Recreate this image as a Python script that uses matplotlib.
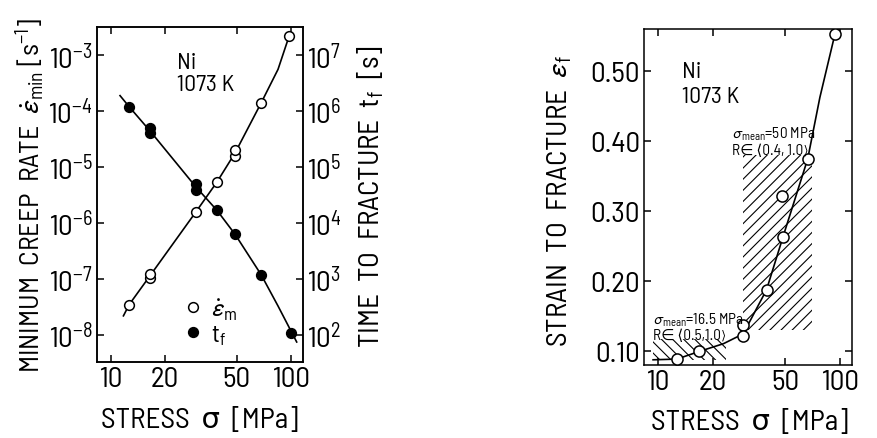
import matplotlib
matplotlib.use("Agg")
import matplotlib.pyplot as plt
from matplotlib.patches import Rectangle
from matplotlib.ticker import FixedLocator, NullLocator, LogFormatterSciNotation
from matplotlib.lines import Line2D

# --- Ni, 1073 K: minimum creep rate and time to fracture vs stress ---
stress_rate = [12.6, 16.4, 16.4, 29.7, 38.8, 49.0, 49.0, 68.4, 98.0]
creep_rate = [3.5e-8, 1.04e-7, 1.23e-7, 1.6e-6, 5.4e-6, 1.6e-5, 2.0e-5, 1.4e-4, 2.2e-3]

stress_tf = [12.6, 16.4, 16.4, 29.7, 29.7, 38.8, 49.0, 68.4, 100.0]
time_fracture = [1.2e6, 5.1e5, 4.1e5, 5.0e4, 3.9e4, 1.7e4, 6.3e3, 1.2e3, 1.1e2]

# hand-drawn fit curves
rate_curve_x = [11.7, 12.6, 16.4, 29.7, 38.8, 49.0, 68.4, 85.0, 98.0]
rate_curve_y = [2.2e-8, 3.5e-8, 1.13e-7, 1.6e-6, 5.4e-6, 1.8e-5, 1.4e-4, 5.6e-4, 2.2e-3]
tf_curve_x = [11.2, 12.6, 16.4, 29.7, 38.8, 49.0, 68.4, 85.0, 108.0]
tf_curve_y = [1.9e6, 1.2e6, 4.5e5, 4.4e4, 1.7e4, 6.3e3, 1.2e3, 3.3e2, 75.0]

# --- strain to fracture vs stress ---
stress_ef = [12.7, 16.9, 29.4, 29.4, 39.5, 47.8, 48.7, 66.5, 94.0]
strain_fracture = [0.088, 0.100, 0.136, 0.121, 0.187, 0.321, 0.263, 0.374, 0.553]
ef_curve_x = [9.4, 12.7, 16.9, 22.9, 29.4, 39.5, 48.7, 66.5, 77.6, 94.0]
ef_curve_y = [0.087, 0.088, 0.099, 0.110, 0.124, 0.187, 0.263, 0.374, 0.462, 0.553]

# cyclic loading regions (stress range, strain range)
region_high_x = (29.2, 70.0)
region_high_y = (0.130, 0.380)
region_low_x = (9.35, 23.6)
region_low_y = (0.086, 0.116)

stress_ticks = [10, 20, 50, 100]
stress_tick_labels = ["10", "20", "50", "100"]
strain_ticks = [0.10, 0.20, 0.30, 0.40, 0.50]
strain_tick_labels = ["0.10", "0.20", "0.30", "0.40", "0.50"]

FONT = ["Barlow Semi Condensed", "DejaVu Sans"]
plt.rcParams["font.family"] = FONT
plt.rcParams["mathtext.fontset"] = "custom"
plt.rcParams["mathtext.rm"] = "Barlow Semi Condensed"
plt.rcParams["mathtext.it"] = "Barlow Semi Condensed:italic"
plt.rcParams["mathtext.bf"] = "Barlow Semi Condensed:bold"
plt.rcParams["mathtext.fallback"] = "stixsans"
plt.rcParams["hatch.linewidth"] = 0.8
plt.rcParams["axes.linewidth"] = 1.1

TICK_FS = 21
LABEL_FS = 21


def style_axis(ax, left=True, right=True):
    ax.tick_params(which="major", direction="in", length=5, width=1.1,
                   labelsize=TICK_FS, top=True, bottom=True, left=left, right=right)
    ax.tick_params(which="minor", length=0)


fig = plt.figure(figsize=(8.78, 4.39), dpi=100)

# ---------------- left panel ----------------
ax = fig.add_axes([0.1101, 0.1724, 0.2353, 0.7631])
ax.set_xscale("log")
ax.set_yscale("log")
ax.set_xlim(8.3, 117.5)
ax.set_ylim(3.25e-9, 3.16e-3)

ax.plot(rate_curve_x, rate_curve_y, color="black", lw=1.2, zorder=2)
ax.plot(stress_rate, creep_rate, "o", ms=7, mfc="white", mec="black", mew=1.1, zorder=3)

ax.xaxis.set_major_locator(FixedLocator(stress_ticks))
ax.set_xticklabels(stress_tick_labels)
ax.xaxis.set_minor_locator(NullLocator())
ax.yaxis.set_major_locator(FixedLocator([1e-8, 1e-7, 1e-6, 1e-5, 1e-4, 1e-3]))
ax.yaxis.set_major_formatter(LogFormatterSciNotation())
ax.yaxis.set_minor_locator(NullLocator())
style_axis(ax, left=True, right=False)
ax.tick_params(axis="x", pad=3)
ax.tick_params(axis="y", pad=3)

ax2 = ax.twinx()
ax2.set_yscale("log")
ax2.set_ylim(3.25e1, 3.16e7)
ax2.plot(tf_curve_x, tf_curve_y, color="black", lw=1.2, zorder=2)
ax2.plot(stress_tf, time_fracture, "o", ms=7, mfc="black", mec="black", mew=1.1, zorder=3)
ax2.yaxis.set_major_locator(FixedLocator([1e2, 1e3, 1e4, 1e5, 1e6, 1e7]))
ax2.yaxis.set_major_formatter(LogFormatterSciNotation())
ax2.yaxis.set_minor_locator(NullLocator())
ax2.tick_params(which="major", direction="in", length=5, width=1.1,
                labelsize=TICK_FS, pad=3)
ax2.tick_params(which="minor", length=0)

ax.text(0.39, 0.895, "Ni", transform=ax.transAxes, fontsize=17, va="center")
ax.text(0.39, 0.830, "1073 K", transform=ax.transAxes, fontsize=17, va="center")

handles = [
    Line2D([], [], ls="none", marker="o", ms=7, mfc="white", mec="black", mew=1.1),
    Line2D([], [], ls="none", marker="o", ms=7, mfc="black", mec="black", mew=1.1),
]
ax.legend(handles, [r"$\dot{\varepsilon}_{\rm m}$", r"$\rm t_f$"], loc="upper left",
          bbox_to_anchor=(0.37, 0.235), frameon=False, fontsize=18,
          handlelength=0.6, handletextpad=0.4, labelspacing=0.05, borderpad=0)

fig.text(200 / 878, 1 - 421 / 439, "STRESS  σ  [MPa]", fontsize=LABEL_FS,
         ha="center", va="center")
fig.text(31 / 878, 1 - 195 / 439,
         r"MINIMUM  CREEP  RATE  $\dot{\varepsilon}_{\rm min}$ [s$^{-1}$]",
         fontsize=20, rotation=90, ha="center", va="center")
fig.text(371 / 878, 1 - 197 / 439, r"TIME  TO  FRACTURE  $\rm t_f$  [s]",
         fontsize=LABEL_FS, rotation=90, ha="center", va="center")

# ---------------- right panel ----------------
bx = fig.add_axes([0.7338, 0.1670, 0.2362, 0.7636])
bx.set_xscale("log")
bx.set_xlim(8.41, 116.0)
bx.set_ylim(0.080, 0.559)

bx.add_patch(Rectangle((region_high_x[0], region_high_y[0]),
                       region_high_x[1] - region_high_x[0],
                       region_high_y[1] - region_high_y[0],
                       fill=False, hatch="///", lw=0, zorder=1))
bx.add_patch(Rectangle((region_low_x[0], region_low_y[0]),
                       region_low_x[1] - region_low_x[0],
                       region_low_y[1] - region_low_y[0],
                       fill=False, hatch="\\\\\\", lw=0, zorder=1))

bx.plot(ef_curve_x, ef_curve_y, color="black", lw=1.2, zorder=2)
bx.plot(stress_ef, strain_fracture, "o", ms=8, mfc="white", mec="black", mew=1.1, zorder=3)

bx.xaxis.set_major_locator(FixedLocator(stress_ticks))
bx.set_xticklabels(stress_tick_labels)
bx.xaxis.set_minor_locator(NullLocator())
bx.set_yticks(strain_ticks)
bx.set_yticklabels(strain_tick_labels)
style_axis(bx)
bx.tick_params(axis="x", pad=3)
bx.tick_params(axis="y", pad=3)

bx.text(0.18, 0.875, "Ni", transform=bx.transAxes, fontsize=17, va="center")
bx.text(0.18, 0.80, "1073 K", transform=bx.transAxes, fontsize=17, va="center")

bx.text(0.425, 0.69, r"$\sigma_{\rm mean}$=50 MPa", transform=bx.transAxes,
        fontsize=11, va="center")
bx.text(0.425, 0.64, "R∈ ⟨0.4, 1.0⟩", transform=bx.transAxes,
        fontsize=11, va="center")
bx.text(0.04, 0.135, r"$\sigma_{\rm mean}$=16.5 MPa", transform=bx.transAxes,
        fontsize=11, va="center")
bx.text(0.04, 0.09, "R∈ ⟨0.5,1.0⟩", transform=bx.transAxes,
        fontsize=11, va="center")

fig.text(750 / 878, 1 - 423 / 439, "STRESS  σ  [MPa]", fontsize=LABEL_FS,
         ha="center", va="center")
fig.text(560 / 878, 1 - 201 / 439, r"STRAIN  TO  FRACTURE  $\varepsilon_{\rm f}$",
         fontsize=LABEL_FS, rotation=90, ha="center", va="center")

fig.savefig("out.png", dpi=100, facecolor="white")
